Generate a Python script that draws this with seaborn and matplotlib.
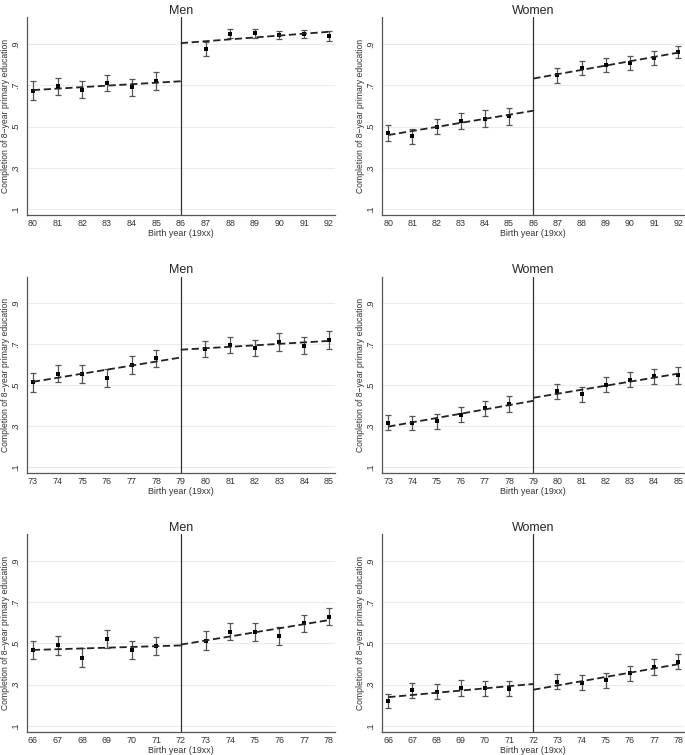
import matplotlib.pyplot as plt
import seaborn as sns
import numpy as np
import pandas as pd

# Data
titles = ['Men', 'Women', 'Men', 'Women', 'Men', 'Women']
first_years = [80, 80, 73, 73, 66, 66]
cutoffs = [86, 86, 79, 79, 72, 72]

# point estimates (cutoff year has no point)
men_80 = [0.674, 0.695, 0.678, 0.711, 0.690, 0.720, 0.876, 0.950, 0.953, 0.945, 0.950, 0.939]
women_80 = [0.469, 0.452, 0.500, 0.528, 0.539, 0.549, 0.748, 0.785, 0.798, 0.810, 0.834, 0.862]
men_73 = [0.513, 0.555, 0.556, 0.535, 0.598, 0.630, 0.677, 0.695, 0.681, 0.711, 0.692, 0.719]
women_73 = [0.316, 0.313, 0.323, 0.356, 0.387, 0.408, 0.469, 0.454, 0.502, 0.526, 0.543, 0.548]
men_66 = [0.469, 0.490, 0.431, 0.521, 0.468, 0.487, 0.513, 0.556, 0.555, 0.534, 0.598, 0.629]
women_66 = [0.221, 0.272, 0.265, 0.283, 0.283, 0.280, 0.313, 0.310, 0.321, 0.355, 0.385, 0.411]

# half-widths of the confidence intervals
err_men_80 = [0.047, 0.040, 0.041, 0.040, 0.042, 0.043, 0.033, 0.022, 0.021, 0.021, 0.021, 0.023]
err_women_80 = [0.037, 0.037, 0.037, 0.039, 0.040, 0.042, 0.036, 0.033, 0.033, 0.034, 0.034, 0.028]
err_men_73 = [0.045, 0.042, 0.044, 0.043, 0.043, 0.042, 0.040, 0.040, 0.040, 0.042, 0.042, 0.044]
err_women_73 = [0.036, 0.034, 0.038, 0.036, 0.037, 0.039, 0.037, 0.037, 0.037, 0.037, 0.037, 0.041]
err_men_66 = [0.043, 0.046, 0.045, 0.044, 0.043, 0.045, 0.046, 0.041, 0.044, 0.044, 0.042, 0.042]
err_women_66 = [0.034, 0.036, 0.037, 0.037, 0.036, 0.036, 0.036, 0.035, 0.037, 0.036, 0.037, 0.036]

# linear fit lines: (value at first year, value at cutoff) and (value at cutoff, value at last year)
fit_left = [(0.677, 0.720), (0.459, 0.577), (0.516, 0.635), (0.297, 0.423), (0.468, 0.490), (0.239, 0.303)]
fit_right = [(0.905, 0.960), (0.733, 0.859), (0.673, 0.716), (0.438, 0.556), (0.494, 0.613), (0.275, 0.399)]

values = [men_80, women_80, men_73, women_73, men_66, women_66]
errors = [err_men_80, err_women_80, err_men_73, err_women_73, err_men_66, err_women_66]

yticks = [0.1, 0.3, 0.5, 0.7, 0.9]
ytick_labels = ['.1', '.3', '.5', '.7', '.9']

sns.set_style('white')
plt.rcParams['font.family'] = ['Liberation Sans', 'DejaVu Sans']

fig = plt.figure(figsize=(6.85, 7.55), dpi=100)

col_pos = [(0.039, 0.450), (0.558, 0.441)]
row_pos = [(0.715, 0.262), (0.3735, 0.260), (0.0305, 0.262)]
fs = 6.4

for i in range(6):
    r, c = divmod(i, 2)
    ax = fig.add_axes([col_pos[c][0], row_pos[r][0], col_pos[c][1], row_pos[r][1]])

    y0 = first_years[i]
    cut = cutoffs[i]
    years = [y for y in range(y0, y0 + 13) if y != cut]
    df = pd.DataFrame({'year': years, 'value': values[i], 'err': errors[i]})

    # horizontal grid lines
    for t in yticks:
        ax.axhline(t, color='#e4eef0', lw=0.8, zorder=0)

    ax.errorbar(df['year'], df['value'], yerr=df['err'], fmt='none',
                ecolor='#555555', elinewidth=0.9, capsize=2.0, capthick=0.9, zorder=2)
    sns.scatterplot(data=df, x='year', y='value', marker='s', s=9, color='black',
                    edgecolor='black', linewidth=0, ax=ax, zorder=3)

    fit = pd.DataFrame({
        'year': [y0, cut, cut, y0 + 12],
        'value': [fit_left[i][0], fit_left[i][1], fit_right[i][0], fit_right[i][1]],
        'side': ['left', 'left', 'right', 'right'],
    })
    for side, g in fit.groupby('side'):
        sns.lineplot(data=g, x='year', y='value', color='#222222', lw=1.3,
                     linestyle=(0, (4, 2)), ax=ax, zorder=4)

    ax.axvline(cut, color='#333333', lw=0.9, zorder=1)

    ax.set_xlim(y0 - 0.25, y0 + 12.25)
    ax.set_ylim(0.07, 1.03)
    ax.set_xticks(list(range(y0, y0 + 13)))
    ax.set_xticklabels([str(y) for y in range(y0, y0 + 13)], fontsize=fs, color='#333333')
    ax.set_yticks(yticks)
    ax.set_yticklabels(ytick_labels, fontsize=fs, rotation=90, va='center', color='#333333')
    ax.tick_params(axis='both', direction='out', length=2, width=0.7, color='#555555')
    ax.tick_params(axis='x', pad=1)
    ax.tick_params(axis='y', pad=3)

    ax.set_xlabel('Birth year (19xx)', fontsize=fs, color='#333333', labelpad=0.5)
    ax.set_ylabel('Completion of 8\u2212year primary education', fontsize=6.2,
                  color='#333333', labelpad=0.8)
    ax.set_title(titles[i], fontsize=9, pad=2.5)

    for s in ['top', 'right']:
        ax.spines[s].set_visible(False)
    for s in ['left', 'bottom']:
        ax.spines[s].set_color('#555555')
        ax.spines[s].set_linewidth(0.9)

fig.savefig('out.png', dpi=100)
